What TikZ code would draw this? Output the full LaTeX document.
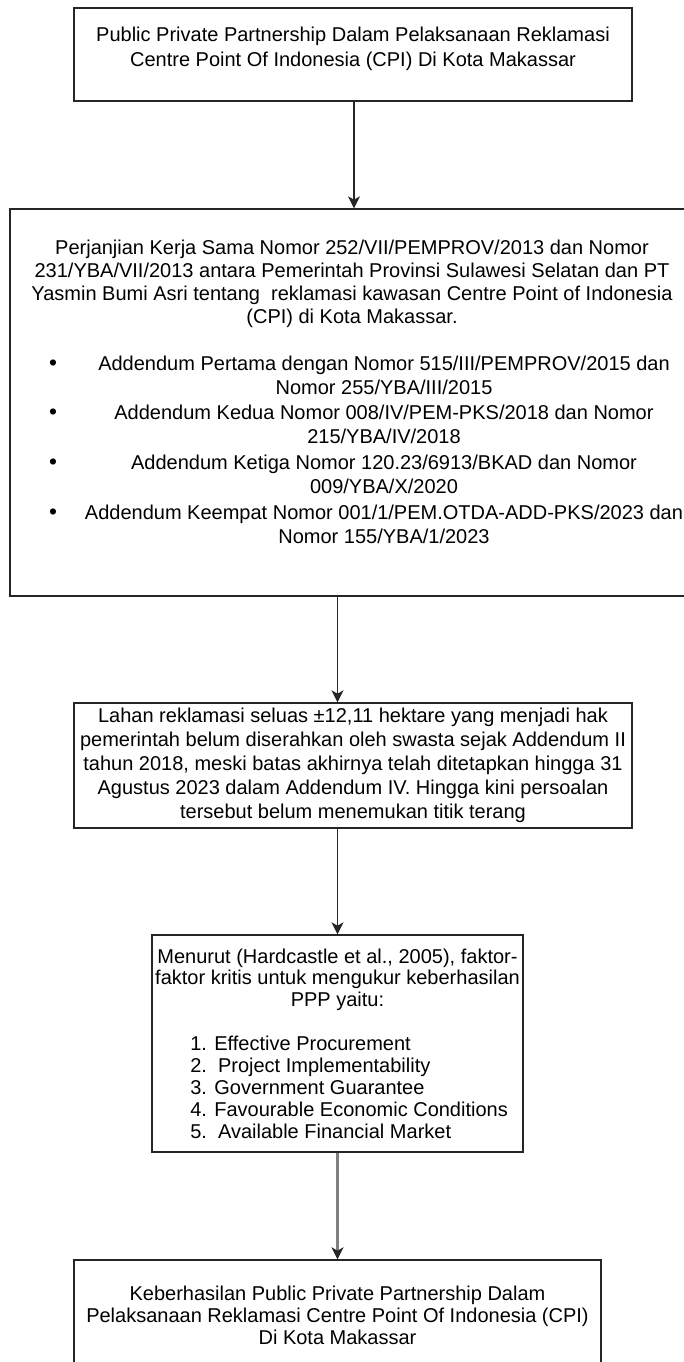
\documentclass[tikz,border=0pt]{standalone}
\usepackage{fontspec}
\setmainfont{Liberation Sans}
\usetikzlibrary{arrows.meta}
\begin{document}
\begin{tikzpicture}[x=0.75pt,y=-0.75pt,
  boxnode/.style={draw=black!85,line width=1pt,inner sep=0pt,fill=none},
  txt/.style={inner sep=0pt,align=center,font=\fontsize{15}{18}\selectfont},
  dot/.style={inner sep=0pt,font=\fontsize{17}{18}\selectfont},
  arr/.style={draw=black!85,line width=1.2pt,-{Stealth[length=9pt,width=9pt,inset=2.5pt]}},
  grayarr/.style={draw=black!50,line width=1.6pt,-{Stealth[length=9pt,width=9pt,inset=2.5pt,color=black!85,fill=black!85]}}]
\useasboundingbox (0,0) rectangle (683,1362);
\fill[white] (0,0) rectangle (683,1362);
% boxes
\node[boxnode,minimum width=418.5pt,minimum height=69.75pt] (b1) at (353,54.5) {};
\node[boxnode,minimum width=513pt,minimum height=290.25pt] (b2) at (352,402.5) {};
\node[boxnode,minimum width=418.5pt,minimum height=93.75pt] (b3) at (353,765.5) {};
\node[boxnode,minimum width=278.25pt,minimum height=162.75pt] (b4) at (337.5,1043.5) {};
\node[boxnode,minimum width=395.25pt,minimum height=105pt] (b5) at (337.5,1330) {};
% texts
\node[txt,font=\fontsize{15}{18.75}\selectfont] (t1) at (353,48.5) {Public Private Partnership Dalam Pelaksanaan Reklamasi\\Centre Point Of Indonesia (CPI) Di Kota Makassar};
\node[txt,font=\fontsize{15}{17.25}\selectfont] (t2) at (352,283.5) {Perjanjian Kerja Sama Nomor 252/VII/PEMPROV/2013 dan Nomor\\231/YBA/VII/2013 antara Pemerintah Provinsi Sulawesi Selatan dan PT\\Yasmin Bumi Asri tentang\ \ reklamasi kawasan Centre Point of Indonesia\\(CPI) di Kota Makassar.};
\node[txt] (i1) at (384,375) {Addendum Pertama dengan Nomor 515/III/PEMPROV/2015 dan\\Nomor 255/YBA/III/2015};
\node[txt] (i2) at (384,424) {Addendum Kedua Nomor 008/IV/PEM-PKS/2018 dan Nomor\\215/YBA/IV/2018};
\node[txt] (i3) at (384,474) {Addendum Ketiga Nomor 120.23/6913/BKAD dan Nomor\\009/YBA/X/2020};
\node[txt] (i4) at (384,524.5) {Addendum Keempat Nomor 001/1/PEM.OTDA-ADD-PKS/2023 dan\\Nomor 155/YBA/1/2023};
\node[dot] (d1) at (53,365) {•};
\node[dot] (d2) at (53,414) {•};
\node[dot] (d3) at (53,464) {•};
\node[dot] (d4) at (53,514) {•};
\node[txt] (t3) at (353,765.5) {Lahan reklamasi seluas ±12,11 hektare yang menjadi hak\\pemerintah belum diserahkan oleh swasta sejak Addendum II\\tahun 2018, meski batas akhirnya telah ditetapkan hingga 31\\Agustus 2023 dalam Addendum IV. Hingga kini persoalan\\tersebut belum menemukan titik terang};
\node[txt,font=\fontsize{15}{16.1}\selectfont] (t4) at (337.5,979.5) {Menurut (Hardcastle et al., 2005), faktor-\\faktor kritis untuk mengukur keberhasilan\\PPP yaitu:};
\node[txt,align=left,anchor=west,font=\fontsize{15}{16.5}\selectfont] (t4b) at (190,1087.5) {1. Effective Procurement\\2.\ \ Project Implementability\\3. Government Guarantee\\4. Favourable Economic Conditions\\5.\ \ Available Financial Market};
\node[txt,font=\fontsize{15}{16.5}\selectfont] (t5) at (337.5,1315) {Keberhasilan Public Private Partnership Dalam\\Pelaksanaan Reklamasi Centre Point Of Indonesia (CPI)\\Di Kota Makassar};
% connectors
\draw[arr] ([xshift=0.75pt]b1.south) -- ([xshift=0.75pt]b1.south |- b2.north);
\draw[arr] (b2.south -| b4.north) -- (b3.north -| b4.north);
\draw[arr] (b3.south -| b4.north) -- (b4.north);
\draw[grayarr] (b4.south) -- (b5.north);
\end{tikzpicture}
\end{document}
